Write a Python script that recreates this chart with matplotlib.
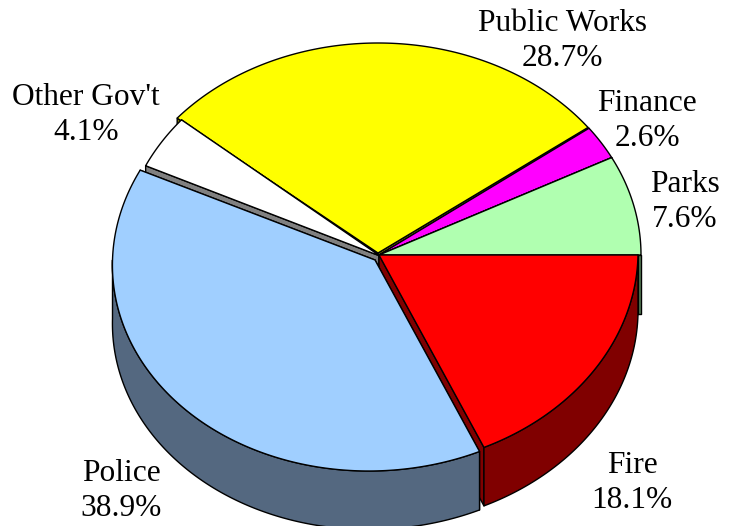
import numpy as np
import matplotlib
matplotlib.use("Agg")
import matplotlib.pyplot as plt
from matplotlib.patches import Polygon

# Budget shares, counter-clockwise from the 3 o'clock position
categories = ["Parks", "Finance", "Public Works", "Other Gov't", "Police", "Fire"]
shares = [7.6, 2.6, 28.7, 4.1, 38.9, 18.1]

top_colors = ["#B0FFB0", "#FF00FF", "#FFFF00", "#FFFFFF", "#A0CFFF", "#FF0000"]
side_colors = ["#588058", "#800080", "#808000", "#808080", "#546880", "#800000"]

# Pie geometry in pixel-like axes units
CX, CY, RX, RY, DEPTH = 379.0, 255.0, 262.0, 212.0, 58.5
slice_layout = {
    "Parks": dict(dx=0.0, dy=0.0, rx=RX, ry=RY, shear=0.0),
    "Finance": dict(dx=0.0, dy=0.0, rx=RX, ry=RY, shear=0.0),
    "Public Works": dict(dx=-1.0, dy=-2.0, rx=RX, ry=210.0, shear=0.0),
    "Other Gov't": dict(dx=1.0, dy=1.0, rx=259.0, ry=RY, shear=0.0),
    "Police": dict(dx=-4.0, dy=5.0, rx=262.5, ry=211.0, shear=0.03),
    "Fire": dict(dx=0.0, dy=0.0, rx=259.0, ry=212.0, shear=0.02),
}
# Back-to-front painting order
paint_order = ["Public Works", "Finance", "Other Gov't", "Parks", "Fire", "Police"]

label_pos = {
    "Public Works": (562, 41),
    "Finance": (647, 121),
    "Parks": (685, 202),
    "Fire": (632, 483),
    "Police": (121, 491),
    "Other Gov't": (86, 115),
}

fig = plt.figure(figsize=(7.36, 5.26), dpi=100)
ax = fig.add_axes([0, 0, 1, 1])
ax.set_xlim(0, 736)
ax.set_ylim(526, 0)
ax.axis("off")

edges = np.cumsum([0.0] + shares) / 100.0 * 360.0


def arc(start, end, geo, drop=0.0):
    t = np.radians(np.linspace(start, end, 160))
    off_y = -geo["ry"] * np.sin(t)
    x = CX + geo["dx"] + geo["rx"] * np.cos(t) - geo["shear"] * off_y
    y = CY + geo["dy"] + off_y + drop
    return np.column_stack([x, y])


def draw_poly(pts, color, z):
    ax.add_patch(Polygon(pts, closed=True, facecolor=color, edgecolor="black",
                         linewidth=1.0, joinstyle="round", zorder=z))


z = 1
for name in paint_order:
    i = categories.index(name)
    geo = slice_layout[name]
    a0, a1 = edges[i], edges[i + 1]
    apex = np.array([CX + geo["dx"], CY + geo["dy"]])
    top = arc(a0, a1, geo)
    drop = np.array([0.0, DEPTH])
    # radial cut faces, the one reaching lowest on the page goes on top
    for p in sorted((top[0], top[-1]), key=lambda q: q[1]):
        draw_poly([apex, p, p + drop, apex + drop], side_colors[i], z)
        z += 1
    # curved outer wall, only the part that faces the viewer
    lo, hi = max(a0, 180.0), min(a1, 360.0)
    if lo < hi:
        upper = arc(lo, hi, geo)
        lower = arc(hi, lo, geo, drop=DEPTH)
        draw_poly(np.vstack([upper, lower]), side_colors[i], z)
        z += 1
    # top face
    draw_poly(np.vstack([apex, top]), top_colors[i], z)
    z += 1

for name, share in zip(categories, shares):
    x, y = label_pos[name]
    ax.text(x, y, f"{name}\n{share:.1f}%", ha="center", va="center",
            family="Liberation Serif", fontsize=22.6, linespacing=1.27,
            color="black", zorder=z)

fig.savefig("out.png", dpi=100, facecolor="white")
